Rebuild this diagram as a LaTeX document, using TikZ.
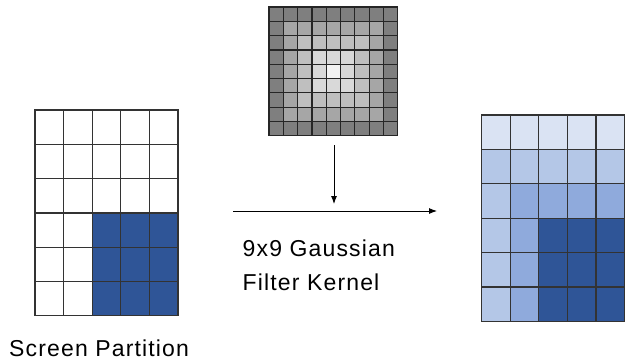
\documentclass[tikz,border=0pt]{standalone}
\usepackage{fontspec}
\newfontfamily\lblfont{Liberation Sans}[LetterSpace=5]
\usetikzlibrary{arrows.meta,positioning}
\definecolor{bluedark}{HTML}{2F5597}
\definecolor{kg0}{HTML}{F2F2F2}
\definecolor{kg1}{HTML}{D9D9D9}
\definecolor{kg2}{HTML}{BFBFBF}
\definecolor{kg3}{HTML}{A6A6A6}
\definecolor{kg4}{HTML}{7F7F7F}
\definecolor{rl0}{HTML}{DAE3F3}
\definecolor{rl1}{HTML}{B4C7E7}
\definecolor{rl2}{HTML}{8FAADC}
\definecolor{rl3}{HTML}{2F5597}
\tikzset{
cell/.style = {draw=black!80, line width=1.2pt},
kcell/.style = {draw=black!85, line width=1.2pt},
lbl/.style = {font=\lblfont\fontsize{23}{28}\selectfont, inner sep=0pt},
flow/.style = {->, line width=0.9pt, black}
}
\begin{document}
\begin{tikzpicture}[x=1pt, y=-1pt, >={Latex[length=8pt,width=6pt]}]
    \useasboundingbox (0,0) rectangle (625,360);
    % screen partition
    \foreach \r in {0,...,5}
      \foreach \c in {0,...,4} {
        \pgfmathtruncatemacro\isblue{(\r>2)&&(\c>1)}
        \ifnum\isblue=1
          \filldraw[cell, fill=bluedark] (35+\c*28.6,110+\r*34.3) rectangle ++(28.6,34.3);
        \else
          \filldraw[cell, fill=white] (35+\c*28.6,110+\r*34.3) rectangle ++(28.6,34.3);
        \fi
      }
    % gaussian kernel
    \foreach \i in {0,...,8}
      \foreach \j in {0,...,8} {
        \pgfmathtruncatemacro\ring{max(abs(\i-4),abs(\j-4))}
        \filldraw[kcell, fill=kg\ring] (269+\i*14.3,7+\j*14.3) rectangle ++(14.3,14.3);
      }
    % filtered result
    \foreach \r in {0,...,5}
      \foreach \c in {0,...,4} {
        \pgfmathtruncatemacro\lev{min(\r,\c+1,3)}
        \filldraw[cell, fill=rl\lev] (481.5+\c*28.6,115+\r*34.4) rectangle ++(28.6,34.4);
      }
    \coordinate (kbot) at (334,145);
    \coordinate (kin) at (334,204);
    \coordinate (hstart) at (233,211);
    \coordinate (hend) at (437,211);
    \draw [flow] (kbot) -- (kin);
    \draw [flow] (hstart) -- (hend);
    \node [lbl, anchor=base west] (gauss) at (242.5,256) {9x9 Gaussian};
    \node [lbl, anchor=base west] (kernel) at (242.5,290) {Filter Kernel};
    \node [lbl, anchor=base west] (screen) at (9,356) {Screen Partition};
\end{tikzpicture}
\end{document}
